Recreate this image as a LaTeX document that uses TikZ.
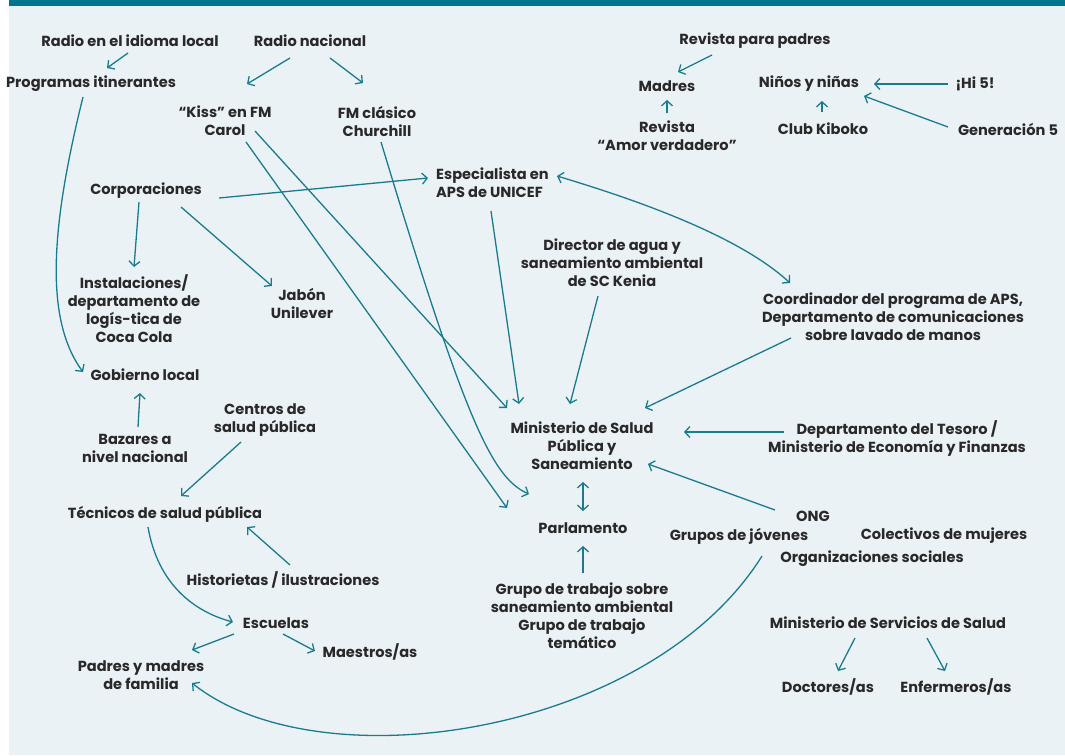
\documentclass[tikz,border=0pt]{standalone}
\usepackage{fontspec}
\setmainfont{Poppins}
\usetikzlibrary{arrows.meta}
\definecolor{teal}{HTML}{00758F}
\definecolor{panel}{HTML}{EAF2F6}
\definecolor{link}{HTML}{1B7B8E}
\definecolor{ink}{HTML}{2A2829}
\tikzset{
  lbl/.style={font=\bfseries\fontsize{14.6}{18}\selectfont, text=ink, align=center, inner sep=0pt},
  arr/.style={draw=link, line width=1.3pt, -{Straight Barb[length=5pt,width=11pt]}},
  darr/.style={draw=link, line width=1.3pt, {Straight Barb[length=5pt,width=11pt]}-{Straight Barb[length=5pt,width=11pt]}}
}
\begin{document}
\begin{tikzpicture}[x=1pt,y=-1pt]
\useasboundingbox (0,0) rectangle (1065,755);
% background panel and header band
\fill[white] (0,0) rectangle (1065,755);
\fill[panel] (9,6) rectangle (1065,755);
\fill[teal] (9,0) rectangle (1065,6);

% media
\node[lbl] (rl) at (130,41) {Radio en el idioma local};
\node[lbl] (rn) at (310,41) {Radio nacional};
\node[lbl] (pi) at (91,84) {Programas itinerantes};
\node[lbl] (kiss) at (225,121) {“Kiss” en FM\\Carol};
\node[lbl] (fmc) at (377,121) {FM clásico\\Churchill};
\node[lbl] (corp) at (146,191) {Corporaciones};
\node[lbl, anchor=west, align=left] (esp) at (436,182.5) {Especialista en\\APS de UNICEF};
\node[lbl] (rpp) at (755,41) {Revista para padres};
\node[lbl] (mad) at (667,86) {Madres};
\node[lbl] (nin) at (809,84) {Niños y niñas};
\node[lbl] (hi5) at (975,84) {¡Hi 5!};
\node[lbl] (rav) at (667,136) {Revista\\“Amor verdadero”};
\node[lbl] (kib) at (823,129) {Club Kiboko};
\node[lbl] (gen) at (1008,129) {Generación 5};
\node[lbl] (dir) at (612,263) {Director de agua y\\saneamiento ambiental\\de SC Kenia};
\node[lbl] (coord) at (893,317) {Coordinador del programa de APS,\\Departamento de comunicaciones\\sobre lavado de manos};
\node[lbl] (inst) at (134,308.5) {Instalaciones/\\departamento de\\logís-tica de\\Coca Cola};
\node[lbl] (jab) at (302,303.5) {Jabón\\Unilever};
\node[lbl] (gob) at (145,375) {Gobierno local};
\node[lbl] (baz) at (135,448) {Bazares a\\nivel nacional};
\node[lbl] (cen) at (265,420) {Centros de\\salud pública};
\node[lbl] (msp) at (582,446) {Ministerio de Salud\\Pública y\\Saneamiento};
\node[lbl] (tes) at (897,438) {Departamento del Tesoro /\\Ministerio de Economía y Finanzas};
\node[lbl] (tec) at (165,514) {Técnicos de salud pública};
\node[lbl] (his) at (283,580) {Historietas / ilustraciones};
\node[lbl] (esc) at (276,623) {Escuelas};
\node[lbl] (mae) at (370,652) {Maestros/as};
\node[lbl] (pad) at (141,675) {Padres y madres\\de familia};
\node[lbl] (par) at (583,528) {Parlamento};
\node[lbl] (gt) at (582,616) {Grupo de trabajo sobre\\saneamiento ambiental\\Grupo de trabajo\\temático};
\node[lbl] (ong) at (813,516) {ONG};
\node[lbl] (gj) at (739,536) {Grupos de jóvenes};
\node[lbl] (col) at (944,536) {Colectivos de mujeres};
\node[lbl] (org) at (872,559) {Organizaciones sociales};
\node[lbl] (mss) at (888,623) {Ministerio de Servicios de Salud};
\node[lbl] (doc) at (828,687) {Doctores/as};
\node[lbl] (enf) at (956,687) {Enfermeros/as};

% connectors
\draw[arr] ([shift={(-2,12)}]rl.center) -- ([shift={(16,-16)}]pi.center);
\draw[arr] ([shift={(-20,17)}]rn.center) -- ([shift={(22,-37)}]kiss.center);
\draw[arr] ([shift={(20,17)}]rn.center) -- ([shift={(-14,-38)}]fmc.center);
\draw[arr] ([shift={(-8,13)}]pi.center) .. controls (50,230) and (45,320) .. ([shift={(-62,-3)}]gob.center);
\draw[arr] ([shift={(30,10)}]kiss.center) -- ([shift={(-75,-38)}]msp.center);
\draw[arr] ([shift={(21,21)}]kiss.center) -- ([shift={(-76,-20)}]par.center);
\draw[arr] ([shift={(4,21)}]fmc.center) .. controls (465,420) and (492,478) .. ([shift={(-54,-34)}]par.center);
\draw[arr] ([shift={(73,7)}]corp.center) -- ([shift={(-8,-4.5)}]esp.west);
\draw[arr] ([shift={(-7,11)}]corp.center) -- ([shift={(0,-41.5)}]inst.center);
\draw[arr] ([shift={(35,16)}]corp.center) -- ([shift={(-30,-17.5)}]jab.center);
\draw[darr] ([shift={(121,-6.5)}]esp.west) .. controls (620,195) and (735,232) .. ([shift={(-103,-34)}]coord.center);
\draw[arr] ([shift={(55,28.5)}]esp.west) -- ([shift={(-63,-42)}]msp.center);
\draw[arr] ([shift={(-14,33)}]dir.center) -- ([shift={(-12,-42)}]msp.center);
\draw[arr] ([shift={(-102,21)}]coord.center) -- ([shift={(63,-38)}]msp.center);
\draw[arr] ([shift={(-113,-6)}]tes.center) -- ([shift={(102,-14)}]msp.center);
\draw[arr] ([shift={(-38,-6)}]ong.center) -- ([shift={(66,18)}]msp.center);
\draw[darr] ([shift={(1,36)}]msp.center) -- ([shift={(0,-17)}]par.center);
\draw[arr] ([shift={(1,-43)}]gt.center) -- ([shift={(0,18)}]par.center);
\draw[arr] ([shift={(23,20)}]gj.center) .. controls (650,735) and (320,785) .. ([shift={(51,8)}]pad.center);
\draw[arr] ([shift={(3,-21)}]baz.center) -- ([shift={(-5,18)}]gob.center);
\draw[arr] ([shift={(-24,22)}]cen.center) -- ([shift={(16,-18)}]tec.center);
\draw[arr] ([shift={(7,-15)}]his.center) -- ([shift={(82,13)}]tec.center);
\draw[arr] ([shift={(-17,13)}]tec.center) .. controls (158,585) and (195,612) .. ([shift={(-43,-1)}]esc.center);
\draw[arr] ([shift={(-42,11)}]esc.center) -- ([shift={(51,-25)}]pad.center);
\draw[arr] ([shift={(7,11)}]esc.center) -- ([shift={(-55,-1)}]mae.center);
\draw[arr] ([shift={(-43,14)}]rpp.center) -- ([shift={(11,-14)}]mad.center);
\draw[arr] ([shift={(0,-23)}]rav.center) -- ([shift={(0,14)}]mad.center);
\draw[arr] ([shift={(-27,0)}]hi5.center) -- ([shift={(65,0)}]nin.center);
\draw[arr] ([shift={(-1,-17)}]kib.center) -- ([shift={(13,17)}]nin.center);
\draw[arr] ([shift={(-60,-2)}]gen.center) -- ([shift={(55,12)}]nin.center);
\draw[arr] ([shift={(-33,15)}]mss.center) -- ([shift={(10,-16)}]doc.center);
\draw[arr] ([shift={(39,15)}]mss.center) -- ([shift={(-11,-16)}]enf.center);
\end{tikzpicture}
\end{document}
